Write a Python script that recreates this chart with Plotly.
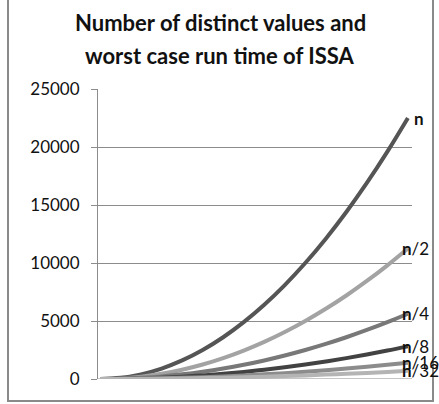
import plotly.graph_objects as go

n_vals = [0, 10, 20, 30, 40, 50, 60, 70, 80, 90, 100, 110, 120, 130, 140, 150]
s_n = [0, 100, 400, 900, 1600, 2500, 3600, 4900, 6400, 8100, 10000, 12100, 14400, 16900, 19600, 22500]
s_n2 = [0, 50, 200, 450, 800, 1250, 1800, 2450, 3200, 4050, 5000, 6050, 7200, 8450, 9800, 11250]
s_n4 = [0, 25, 100, 225, 400, 625, 900, 1225, 1600, 2025, 2500, 3025, 3600, 4225, 4900, 5625]
s_n8 = [0, 12, 50, 112, 200, 312, 450, 612, 800, 1012, 1250, 1512, 1800, 2112, 2450, 2812]
s_n16 = [0, 6, 25, 56, 100, 156, 225, 306, 400, 506, 625, 756, 900, 1056, 1225, 1406]
s_n32 = [0, 3, 12, 28, 50, 78, 112, 153, 200, 253, 312, 378, 450, 528, 612, 703]
y_ticks = [0, 5000, 10000, 15000, 20000, 25000]
y_tick_labels = ["0", "5000", "10000", "15000", "20000", "25000"]
title_lines = ["Number of distinct values and", "worst case run time of ISSA"]

series = [
    ("n", s_n, "#555555", ""),
    ("n/2", s_n2, "#a3a3a3", "/2"),
    ("n/4", s_n4, "#787878", "/4"),
    ("n/8", s_n8, "#424242", "/8"),
    ("n/16", s_n16, "#8c8c8c", "/16"),
    ("n/32", s_n32, "#b4b4b4", "/32"),
]

FONT = "Lato"
fig = go.Figure()
for name, ys, col, suffix in series:
    fig.add_trace(go.Scatter(x=n_vals, y=ys, mode="lines", name=name,
                             line=dict(color=col, width=4, shape="spline"),
                             showlegend=False))
for name, ys, col, suffix in series:
    fig.add_annotation(x=n_vals[-1], y=ys[-1], xref="x", yref="y",
                       text="<b>n</b>" + suffix, showarrow=False,
                       xanchor="left", yanchor="middle", xshift=-8 if suffix else 4,
                       font=dict(family=FONT, size=17, color="#111111"))

# title as two centred lines
for line, py in zip(title_lines, [22, 55]):
    fig.add_annotation(x=220 / 439, y=(379 - py) / 290, xref="paper", yref="paper",
                       text="<b>" + line + "</b>", showarrow=False,
                       xanchor="center", yanchor="middle",
                       font=dict(family=FONT, size=22, color="#111111"))

fig.update_layout(
    width=439, height=404,
    margin=dict(l=98, r=27, t=89, b=25),
    paper_bgcolor="white", plot_bgcolor="white",
    xaxis=dict(range=[-1, 152], showgrid=False, showticklabels=False,
               zeroline=False, showline=False, ticks=""),
    yaxis=dict(range=[0, 25000], tickvals=y_ticks, ticktext=y_tick_labels,
               showgrid=True,
               gridcolor="#8c8c8c", gridwidth=1, zeroline=False,
               showline=True, linecolor="#8c8c8c", linewidth=1,
               ticks="outside", ticklen=6, tickcolor="#8c8c8c",
               tickfont=dict(family=FONT, size=17, color="#111111"),
               ticklabelstandoff=8),
)
# fix annotation x to container centre
fig.layout.annotations[-1].update(x=(220 - 98) / 314)
fig.layout.annotations[-2].update(x=(220 - 98) / 314)
# x axis baseline
fig.add_shape(type="line", xref="paper", yref="y", x0=0, x1=1, y0=0, y1=0,
              line=dict(color="#8c8c8c", width=1), layer="below")
# outer chart border
fig.add_shape(type="rect", xref="paper", yref="paper",
              x0=(8 - 98) / 314, x1=(433 - 98) / 314,
              y0=(379 - 401) / 290, y1=(379 + 10) / 290,
              line=dict(color="#8a8a8a", width=2))
fig.write_html("out.html")
